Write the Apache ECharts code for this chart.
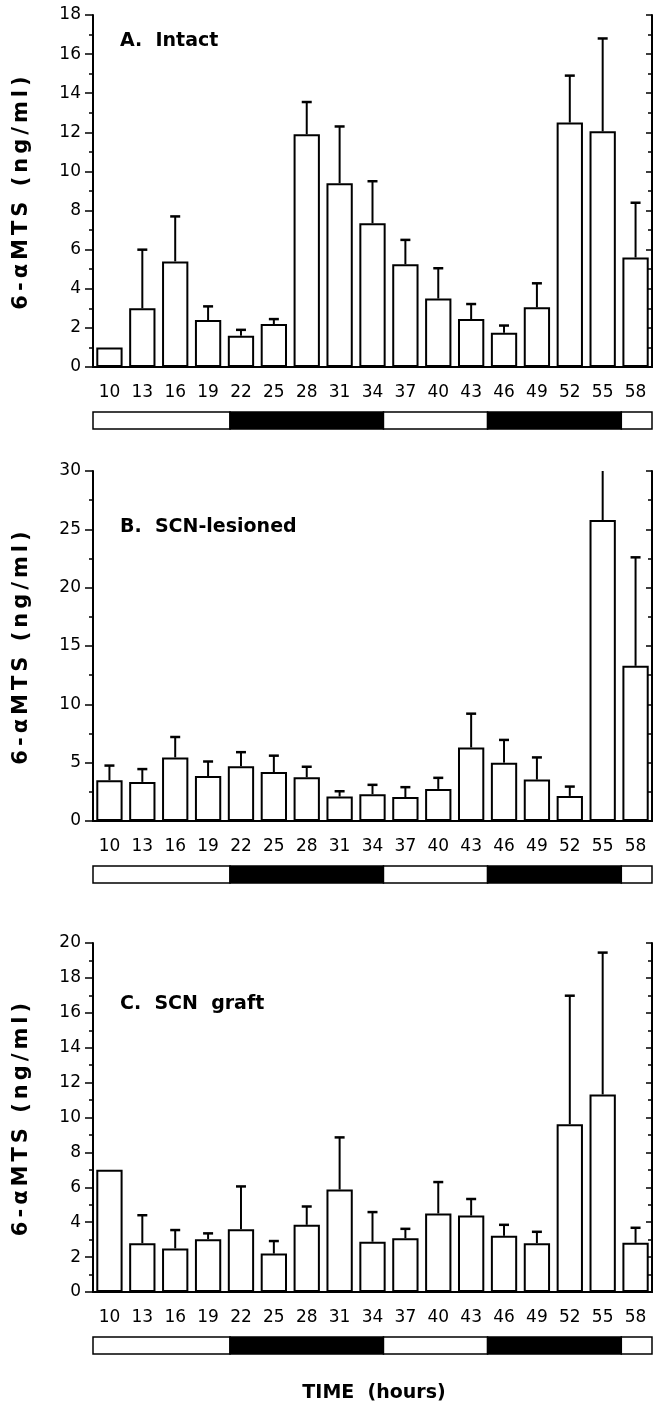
<!DOCTYPE html>
<html><head><meta charset="utf-8">
<script src="https://cdn.jsdelivr.net/npm/echarts@6/dist/echarts.min.js"></script>
<style>html,body{margin:0;padding:0;background:#fff}#c{width:661px;height:1404px}</style>
</head><body><div id="c"></div>
<script>
// ---- data ----
const hours = ['10','13','16','19','22','25','28','31','34','37','40','43','46','49','52','55','58'];
const intactMean = [1.0, 3.0, 5.4, 2.4, 1.6, 2.2, 11.9, 9.4, 7.35, 5.25, 3.5, 2.45, 1.75, 3.05, 12.5, 12.05, 5.6];
const intactErrTop = [null, 6.0, 7.7, 3.1, 1.9, 2.45, 13.55, 12.3, 9.5, 6.5, 5.05, 3.22, 2.12, 4.28, 14.9, 16.8, 8.4];
const lesionMean = [3.5, 3.35, 5.45, 3.85, 4.7, 4.2, 3.75, 2.1, 2.3, 2.05, 2.75, 6.3, 5.0, 3.55, 2.15, 25.8, 13.3];
const lesionErrTop = [4.75, 4.45, 7.2, 5.1, 5.9, 5.6, 4.65, 2.55, 3.1, 2.9, 3.7, 9.2, 6.95, 5.45, 2.95, 31, 22.6];
const graftMean = [7.0, 2.8, 2.5, 3.03, 3.6, 2.2, 3.85, 5.87, 2.88, 3.08, 4.5, 4.38, 3.22, 2.8, 9.62, 11.32, 2.82];
const graftErrTop = [null, 4.4, 3.55, 3.36, 6.05, 2.92, 4.9, 8.86, 4.58, 3.62, 6.3, 5.33, 3.85, 3.45, 16.98, 19.45, 3.68];
// light/dark schedule in hours: [start, end, dark?]
const lightDark = [[8.5, 21, 0], [21, 35, 1], [35, 44.5, 0], [44.5, 56.7, 1], [56.7, 59.5, 0]];
const yTitle = '6-\u03b1MTS (ng/ml)';
const panelTitles = ['A.  Intact', 'B.  SCN-lesioned', 'C.  SCN  graft'];
const xTitle = 'TIME  (hours)';
const yMax = [18, 30, 20];
const yStep = [2, 5, 2];

// the printed y title is widely set: add letter spacing only while it is drawn
const _fillText = CanvasRenderingContext2D.prototype.fillText;
CanvasRenderingContext2D.prototype.fillText = function (t, x, y, w) {
  if (t === yTitle && 'letterSpacing' in this) {
    this.save();
    this.letterSpacing = '4px';
    const f = this.font; this.font = f;
    _fillText.call(this, t, x, y);
    this.restore();
    this.letterSpacing = '0px';
    const g = this.font; this.font = '10px serif'; this.font = g;
    return;
  }
  return w === undefined ? _fillText.call(this, t, x, y) : _fillText.call(this, t, x, y, w);
};

// ---- layout ----
const panels = [
  {top: 15, height: 352, mean: intactMean, err: intactErrTop, titleTop: 32},
  {top: 471, height: 350, mean: lesionMean, err: lesionErrTop, titleTop: 518},
  {top: 943, height: 349, mean: graftMean, err: graftErrTop, titleTop: 995}
];
const LEFT = 93, WIDTH = 559;
const FONT = 'DejaVu Sans';

const grid = [], xAxis = [], yAxis = [], series = [], title = [];
panels.forEach((p, k) => {
  const gi = grid.length;
  grid.push({left: LEFT, width: WIDTH, top: p.top, height: p.height});
  grid.push({left: LEFT, width: WIDTH, top: p.top + p.height + 45, height: 17});
  const xb = xAxis.length;
  xAxis.push({type: 'category', gridIndex: gi, data: hours, position: 'bottom',
    axisLine: {lineStyle: {color: '#000', width: 2}},
    axisTick: {alignWithLabel: true, length: 7, lineStyle: {color: '#000', width: 1.5}},
    axisLabel: {color: '#000', fontFamily: FONT, fontSize: 17, margin: 17}});
  xAxis.push({type: 'category', gridIndex: gi, data: hours, position: 'top',
    axisLine: {lineStyle: {color: '#000', width: 2}},
    axisTick: {alignWithLabel: true, length: 7, lineStyle: {color: '#000', width: 1.5}},
    axisLabel: {show: false}});
  xAxis.push({type: 'value', gridIndex: gi + 1, min: 8.5, max: 59.5, show: false});
  const yl = yAxis.length;
  yAxis.push({type: 'value', gridIndex: gi, min: 0, max: yMax[k], interval: yStep[k], position: 'left',
    axisLine: {show: true, lineStyle: {color: '#000', width: 2}},
    axisTick: {show: true, length: 8, lineStyle: {color: '#000', width: 1.5}},
    minorTick: {show: true, splitNumber: 2, length: 4, lineStyle: {color: '#000', width: 1.5}},
    splitLine: {show: false},
    axisLabel: {color: '#000', fontFamily: FONT, fontSize: 17, margin: 12},
    name: yTitle, nameLocation: 'middle', nameGap: 61, nameRotate: 90,
    nameTextStyle: {color: '#000', fontFamily: FONT, fontWeight: 'bold', fontSize: 21}});
  yAxis.push({type: 'value', gridIndex: gi, min: 0, max: yMax[k], interval: yStep[k], position: 'right',
    axisLine: {show: true, lineStyle: {color: '#000', width: 2}},
    axisTick: {show: true, inside: true, length: 6, lineStyle: {color: '#000', width: 1.5}},
    minorTick: {show: true, splitNumber: 2, length: 4, lineStyle: {color: '#000', width: 1.5}},
    splitLine: {show: false}, axisLabel: {show: false}});
  yAxis.push({type: 'value', gridIndex: gi + 1, min: 0, max: 1, show: false});

  series.push({type: 'bar', xAxisIndex: xb, yAxisIndex: yl, data: p.mean, barCategoryGap: '20%',
    itemStyle: {color: '#fff', borderColor: '#000', borderWidth: 2}, silent: true, animation: false});
  const errData = [];
  p.err.forEach((e, i) => { if (e != null) errData.push([i, p.mean[i], e]); });
  series.push({type: 'custom', xAxisIndex: xb, yAxisIndex: yl, clip: true, animation: false, silent: true,
    encode: {x: 0, y: [1, 2]}, data: errData,
    renderItem: function (params, api) {
      const i = api.value(0), m = api.value(1), e = api.value(2);
      const p0 = api.coord([i, m]), p1 = api.coord([i, e]);
      return {type: 'group', children: [
        {type: 'line', shape: {x1: p0[0], y1: p0[1], x2: p1[0], y2: p1[1]}, style: {stroke: '#000', lineWidth: 2}},
        {type: 'line', shape: {x1: p1[0] - 5, y1: p1[1], x2: p1[0] + 5, y2: p1[1]}, style: {stroke: '#000', lineWidth: 2.5}}
      ]};
    }});
  series.push({type: 'custom', xAxisIndex: xb + 2, yAxisIndex: yl + 2, animation: false, silent: true,
    encode: {x: [0, 1]}, data: lightDark,
    renderItem: function (params, api) {
      const a = api.coord([api.value(0), 1]), b = api.coord([api.value(1), 0]);
      const dark = api.value(2) === 1;
      return {type: 'rect', shape: {x: a[0], y: a[1], width: b[0] - a[0], height: b[1] - a[1]},
        style: {fill: dark ? '#000' : '#fff', stroke: '#000', lineWidth: 1.5}};
    }});
  title.push({text: panelTitles[k], left: 120, top: p.titleTop, padding: 0,
    textStyle: {color: '#000', fontFamily: FONT, fontWeight: 'bold', fontSize: 19}});
});
title.push({text: xTitle, left: 374, top: 1384, textAlign: 'center', padding: 0,
  textStyle: {color: '#000', fontFamily: FONT, fontWeight: 'bold', fontSize: 19}});

const chart = echarts.init(document.getElementById('c'), null, {renderer: 'canvas'});
chart.setOption({animation: false, backgroundColor: '#fff', title, grid, xAxis, yAxis, series});
</script>
</body></html>
